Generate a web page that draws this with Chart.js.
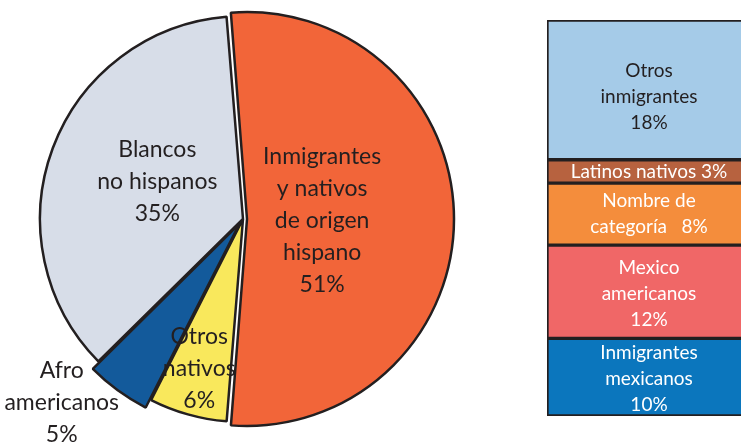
<!DOCTYPE html>
<html>
<head>
<meta charset="utf-8">
<script src="https://cdn.jsdelivr.net/npm/chart.js@4.4.0/dist/chart.umd.min.js"></script>
<style>
  html, body { margin: 0; padding: 0; background: #fff; overflow: hidden; }
  body { width: 741px; height: 442px; position: relative; }
  #pie { position: absolute; left: 0; top: 0; }
  #bar { position: absolute; left: 547px; top: 0; }
</style>
</head>
<body>
<canvas id="pie" width="486" height="442"></canvas>
<canvas id="bar" width="204" height="442"></canvas>
<script>
// pie: population shares
const pieNames = [['Inmigrantes', 'y nativos', 'de origen', 'hispano'], ['Otros', 'nativos'], ['Afro', 'americanos'], ['Blancos', 'no hispanos']];
const pieValues = [51, 6, 5, 35];
const pieColors = ['#f26539', '#f9e85c', '#135a9b', '#d7dde8'];

// stacked bar: breakdown of the 51%, bottom to top
const barNames = [['Inmigrantes', 'mexicanos'], ['Mexico', 'americanos'], ['Nombre de', 'categoría'], ['Latinos nativos'], ['Otros', 'inmigrantes']];
const barValues = [10, 12, 8, 3, 18];
const barColors = ['#0b76bd', '#f06767', '#f48d3c', '#b7623f', '#a5cbe8'];
const barPctInline = [false, false, true, true, false];

const ink = '#231f20';

// [fraction of radius, angle nudge in degrees]
const pieLabelPos = [[0.39, 1.5], [0.77, 0.5], [1.27, 8.5], [0.46, 3]];

const pieText = {
  id: 'pieText',
  afterDatasetsDraw(chart) {
    const ctx = chart.ctx;
    const arcs = chart.getDatasetMeta(0).data;
    ctx.save();
    ctx.font = '23px Lato';
    ctx.fillStyle = ink;
    ctx.textAlign = 'center';
    ctx.textBaseline = 'middle';
    arcs.forEach((arc, i) => {
      const p = arc.getProps(['x', 'y', 'startAngle', 'endAngle', 'outerRadius']);
      const mid = (p.startAngle + p.endAngle) / 2 + pieLabelPos[i][1] * Math.PI / 180;
      const r = p.outerRadius * pieLabelPos[i][0];
      const cx = p.x + Math.cos(mid) * r;
      const cy = p.y + Math.sin(mid) * r;
      const lines = pieNames[i].concat([pieValues[i] + '%']);
      lines.forEach((t, k) => ctx.fillText(t, cx, cy + (k - (lines.length - 1) / 2) * 32));
    });
    ctx.restore();
  }
};

const barShift = [2, 2, 0, 0, 7];

const barText = {
  id: 'barText',
  afterDatasetsDraw(chart) {
    const ctx = chart.ctx;
    ctx.save();
    ctx.font = '19px Lato';
    ctx.textAlign = 'center';
    ctx.textBaseline = 'middle';
    chart.data.datasets.forEach((ds, i) => {
      const bar = chart.getDatasetMeta(i).data[0];
      const p = bar.getProps(['x', 'y', 'base']);
      const cy = (p.y + p.base) / 2 + barShift[i];
      let lines = barNames[i].slice();
      const pct = barValues[i] + '%';
      if (barPctInline[i]) {
        lines[lines.length - 1] += (lines.length > 1 ? '   ' : ' ') + pct;
      } else {
        lines.push(pct);
      }
      ctx.fillStyle = i === 4 ? ink : '#ffffff';
      lines.forEach((t, k) => ctx.fillText(t, p.x, cy + (k - (lines.length - 1) / 2) * 26));
    });
    ctx.restore();
  }
};

new Chart(document.getElementById('pie'), {
  type: 'pie',
  data: {
    labels: pieNames.map(n => n.join(' ')),
    datasets: [{
      data: pieValues,
      backgroundColor: pieColors,
      borderColor: ink,
      borderWidth: 2.5,
      offset: [16, 0, 22, 0]
    }]
  },
  options: {
    responsive: false,
    animation: false,
    rotation: -4.65,
    radius: 203,
    layout: { padding: { top: 0, bottom: 4, left: 0, right: 0 } },
    plugins: { legend: { display: false }, tooltip: { enabled: false } }
  },
  plugins: [pieText]
});

new Chart(document.getElementById('bar'), {
  type: 'bar',
  data: {
    labels: [''],
    datasets: barValues.map((v, i) => ({
      label: barNames[i].join(' '),
      data: [v],
      backgroundColor: barColors[i],
      borderColor: ink,
      borderWidth: 2,
      borderSkipped: false,
      barPercentage: 1,
      categoryPercentage: 1
    }))
  },
  options: {
    responsive: false,
    animation: false,
    layout: { padding: { top: 20, bottom: 26 } },
    scales: {
      x: { stacked: true, display: false },
      y: { stacked: true, display: false, min: 0, max: barValues.reduce((a, b) => a + b, 0) }
    },
    plugins: { legend: { display: false }, tooltip: { enabled: false } }
  },
  plugins: [barText]
});
</script>
</body>
</html>
